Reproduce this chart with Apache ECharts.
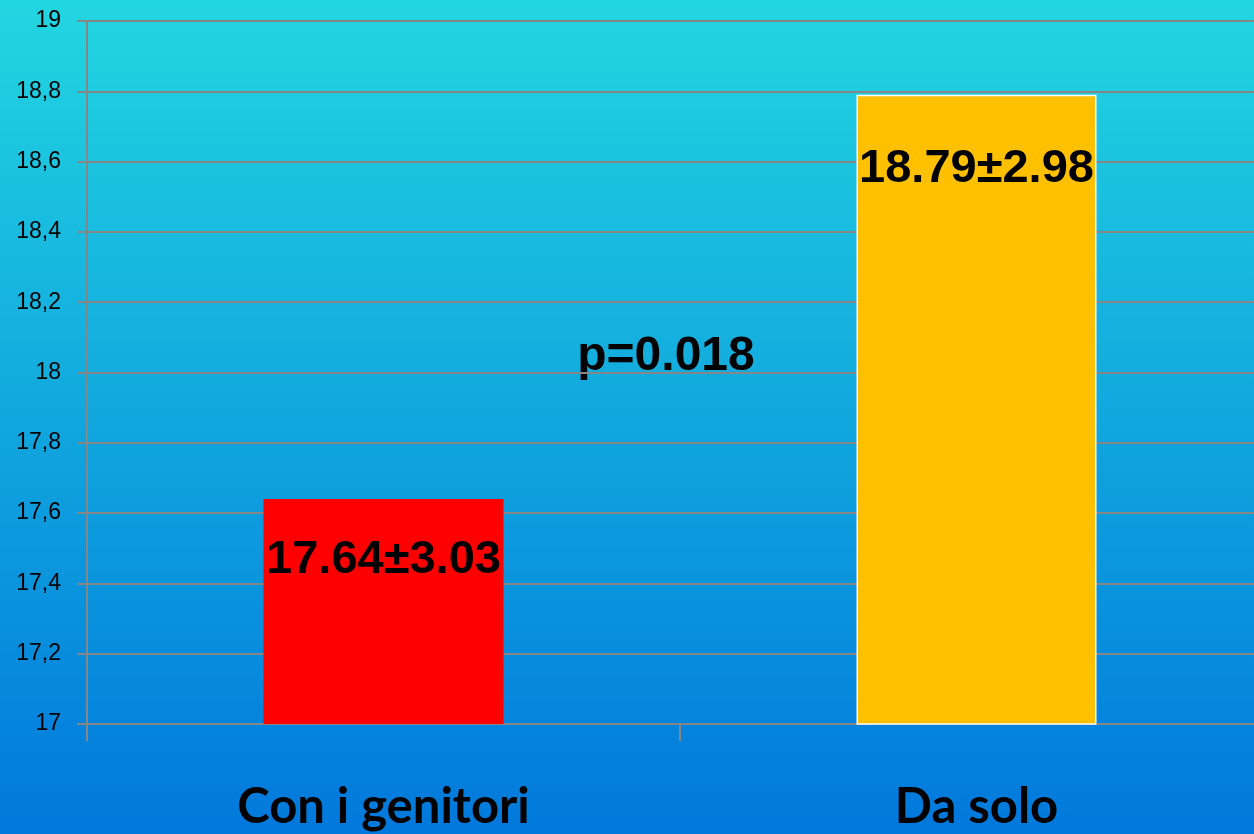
<!DOCTYPE html>
<html><head><meta charset="utf-8">
<script src="https://cdn.jsdelivr.net/npm/echarts@6/dist/echarts.min.js"></script>
<style>html,body{margin:0;padding:0;}#c{width:1254px;height:834px;}</style>
</head><body><div id="c"></div>
<script>
const categories = ['Con i genitori', 'Da solo'];
const values = [17.64, 18.79];
const valueLabels = ['17.64±3.03', '18.79±2.98'];
const barColors = ['#ff0000', '#ffc000'];
const pText = 'p=0.018';
const yMin = 17, yMax = 19, yStep = 0.2;

const chart = echarts.init(document.getElementById('c'));
const labelDist = [38, 51];
chart.setOption({
  backgroundColor: new echarts.graphic.LinearGradient(0, 0, 0, 1, [
    {offset: 0, color: '#22d6e0'}, {offset: 1, color: '#0078dc'}
  ]),
  animation: false,
  grid: {left: 87, top: 21, width: 1186, bottom: 110, containLabel: false, outerBoundsMode: 'none'},
  xAxis: {
    type: 'category', data: categories,
    axisLine: {lineStyle: {color: '#868686', width: 2}},
    axisTick: {show: true, length: 17, lineStyle: {color: '#868686', width: 2}},
    axisLabel: {color: '#000', fontFamily: 'Lato', fontWeight: 'bold', fontSize: 49, lineHeight: 49, margin: 59}
  },
  yAxis: {
    type: 'value', min: yMin, max: yMax, interval: yStep,
    axisLine: {show: true, lineStyle: {color: '#868686', width: 2}},
    axisTick: {show: true, length: 10, lineStyle: {color: '#868686', width: 2}},
    splitLine: {show: true, lineStyle: {color: '#868686', width: 2}},
    axisLabel: {color: '#000', fontFamily: 'Liberation Sans', fontSize: 23, margin: 26,
      formatter: v => (Math.round(v * 10) / 10).toString().replace('.', ',')}
  },
  series: [{
    type: 'bar', barWidth: 240,
    data: values.map((v, i) => ({
      value: v,
      itemStyle: {color: barColors[i], borderColor: i === 1 ? '#ffffff' : barColors[i], borderWidth: i === 1 ? 1.5 : 0},
      label: {show: true, position: 'insideTop', distance: labelDist[i], formatter: valueLabels[i],
        color: '#000', fontFamily: 'Liberation Sans', fontWeight: 'bold', fontSize: 47, lineHeight: 47}
    }))
  }],
  graphic: [{
    type: 'text', x: 666, y: 357,
    style: {text: pText, fill: '#000', font: 'bold 48px "Liberation Sans"', textAlign: 'center', textVerticalAlign: 'middle'}
  }]
});
</script></body></html>
